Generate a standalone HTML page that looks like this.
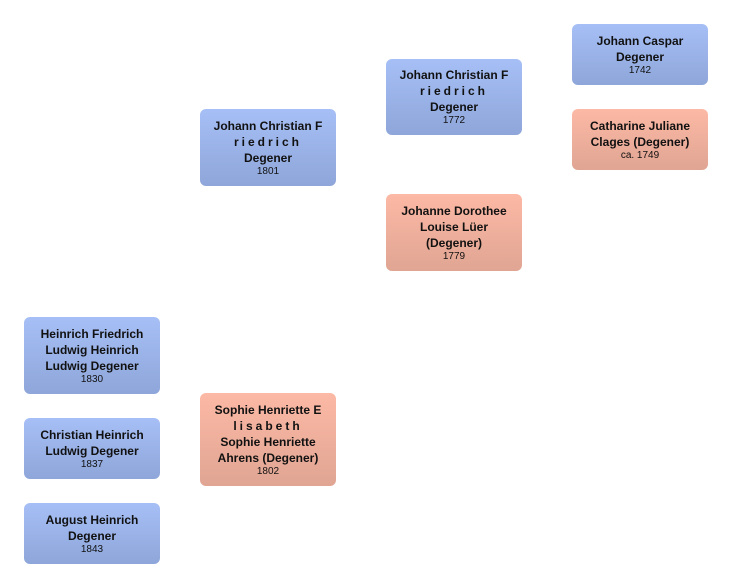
<html><head><style>
body{margin:0;width:732px;height:588px;background:#fff;position:relative;font-family:"Liberation Sans",sans-serif;}
.b{position:absolute;width:136px;border-radius:6px;display:flex;flex-direction:column;justify-content:center;align-items:center;text-align:center;font-weight:bold;font-size:12px;line-height:16px;color:#111;box-sizing:border-box;padding:0 4px;}
.m{background:linear-gradient(#a6bff6,#8ea6d9);}
.f{background:linear-gradient(#fcb9a5,#e0a593);}
.y{font-weight:normal;font-size:10px;line-height:12px;}
.s{letter-spacing:3px;}
</style></head><body>
<div class="b m" style="left:572px;top:24px;height:61px">Johann Caspar<br>Degener<div class="y">1742</div></div>
<div class="b f" style="left:572px;top:109px;height:61px">Catharine Juliane<br>Clages (Degener)<div class="y">ca. 1749</div></div>
<div class="b m" style="left:386px;top:59px;height:76px">Johann Christian F<br><span class="s">riedrich</span>Degener<div class="y">1772</div></div>
<div class="b f" style="left:386px;top:194px;height:77px">Johanne Dorothee<br>Louise Lüer<br>(Degener)<div class="y">1779</div></div>
<div class="b m" style="left:200px;top:109px;height:77px">Johann Christian F<br><span class="s">riedrich</span>Degener<div class="y">1801</div></div>
<div class="b f" style="left:200px;top:393px;height:93px">Sophie Henriette E<br><span class="s">lisabeth</span>Sophie Henriette<br>Ahrens (Degener)<div class="y">1802</div></div>
<div class="b m" style="left:24px;top:317px;height:77px">Heinrich Friedrich<br>Ludwig Heinrich<br>Ludwig Degener<div class="y">1830</div></div>
<div class="b m" style="left:24px;top:418px;height:61px">Christian Heinrich<br>Ludwig Degener<div class="y">1837</div></div>
<div class="b m" style="left:24px;top:503px;height:61px">August Heinrich<br>Degener<div class="y">1843</div></div>
</body></html>
